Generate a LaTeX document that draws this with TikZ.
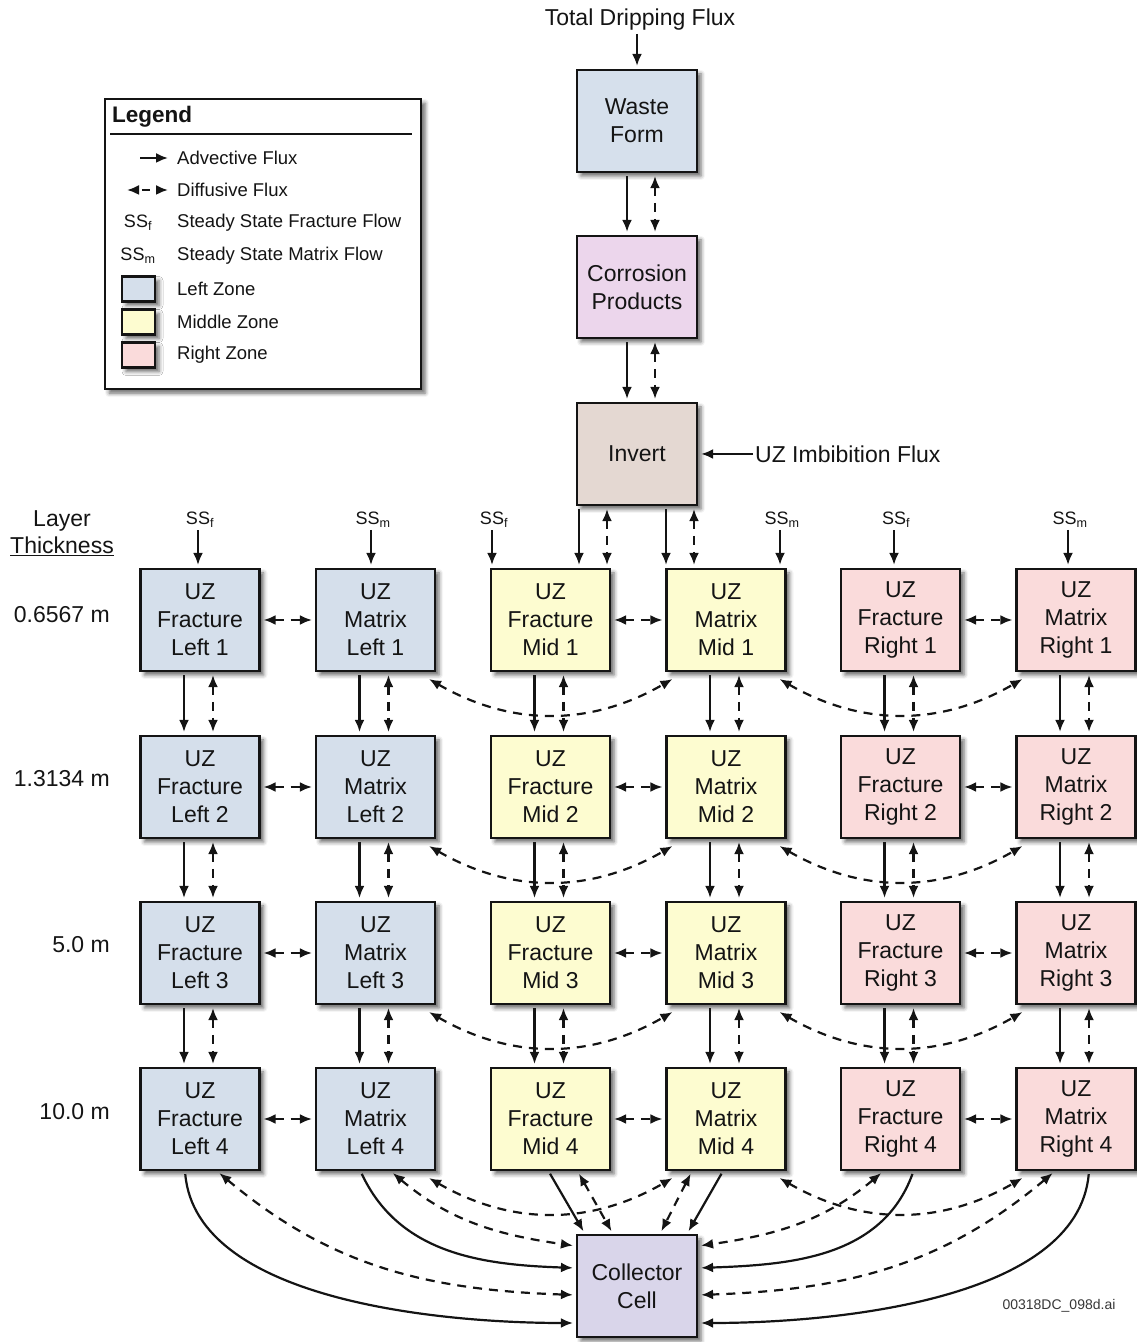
\documentclass[tikz,border=0pt]{standalone}
\usepackage{fontspec}
\setmainfont{Liberation Sans}
\usetikzlibrary{arrows.meta,shadows.blur,calc}
\definecolor{cL}{RGB}{213,223,235}
\definecolor{cM}{RGB}{253,252,208}
\definecolor{cR}{RGB}{250,219,219}
\definecolor{cWF}{RGB}{214,224,236}
\definecolor{cCP}{RGB}{236,214,236}
\definecolor{cIN}{RGB}{228,216,210}
\definecolor{cCC}{RGB}{217,213,234}
\definecolor{ink}{RGB}{20,20,20}
\begin{document}
\begin{tikzpicture}[x=1pt,y=1pt,
  >={Latex[length=12pt,width=10pt]},
  shadowed/.style={blur shadow={shadow xshift=4pt,shadow yshift=-4pt,shadow blur radius=4pt,shadow opacity=60}},
  box/.style={draw=ink,line width=2.2pt,minimum width=119pt,minimum height=102pt,inner sep=0pt,
    align=center,font=\fontsize{23}{28}\selectfont,text=ink,shadowed},
  adv/.style={draw=ink,line width=2.2pt,->,shorten >=3pt,shorten <=3pt},
  dif/.style={draw=ink,line width=2.2pt,<->,shorten >=3pt,shorten <=3pt,dash pattern=on 9pt off 7pt},
  lbl/.style={font=\fontsize{23}{27}\selectfont,text=ink,inner sep=0pt},
  ltx/.style={font=\fontsize{18.5}{22}\selectfont,text=ink,inner sep=0pt,anchor=west},
  sslbl/.style={font=\fontsize{18}{20}\selectfont,text=ink,inner sep=1pt},
  swatch/.style={draw=ink,line width=2.2pt,minimum width=33pt,minimum height=25pt,inner sep=0pt,shadowed}
]
\useasboundingbox (0,0) rectangle (1136,1342);

% ---------- legend ----------
\node[draw=ink,line width=2.2pt,fill=white,minimum width=316pt,minimum height=290pt,anchor=north west,shadowed] (leg) at (104,1244) {};
\node[font=\fontsize{22.5}{26}\selectfont\bfseries,text=ink,anchor=west,inner sep=0pt] (legt) at (112,1225) {Legend};
\coordinate (rl) at (110,1208); \coordinate (rr) at (412,1208);
\draw[ink,line width=1.8pt] (rl) -- (rr);
\coordinate (a1) at (140,1184); \coordinate (a2) at (168,1184);
\draw[adv,shorten <=0pt,shorten >=0pt] (a1) -- (a2);
\node[ltx] (t1) at (177,1184) {Advective Flux};
\coordinate (d1) at (127,1152); \coordinate (d2) at (168,1152);
\draw[dif,shorten <=0pt,shorten >=0pt,dash pattern=on 0pt off 4pt on 8pt off 4pt] (d1) -- (d2);
\node[ltx] (t2) at (177,1152) {Diffusive Flux};
\node[sslbl] (lf) at (138,1119) {SS\textsubscript{f}};
\node[ltx] (t3) at (177,1119) {Steady State Fracture Flow};
\node[sslbl] (lm) at (138,1086) {SS\textsubscript{m}};
\node[ltx] (t4) at (177,1086) {Steady State Matrix Flow};
\node[swatch,fill=cL] (s1) at (138.5,1053) {};
\node[ltx] (t5) at (177,1053) {Left Zone};
\node[swatch,fill=cM] (s2) at (138.5,1020) {};
\node[ltx] (t6) at (177,1020) {Middle Zone};
\node[swatch,fill=cR] (s3) at (138.5,987) {};
\node[ltx] (t7) at (177,987) {Right Zone};

% ---------- top column ----------
\node[lbl] (tdf) at (640,1322) {Total Dripping Flux};
\node[box,fill=cWF,minimum width=120pt] (wf) at (637,1221) {Waste\\Form};
\node[box,fill=cCP,minimum width=120pt] (cp) at (637,1055) {Corrosion\\Products};
\node[box,fill=cIN,minimum width=120pt] (inv) at (637,888) {Invert};
\node[lbl,anchor=west] (imb) at (755,888) {UZ Imbibition Flux};
\node[box,fill=cCC,minimum width=120pt] (cc) at (637,56) {Collector\\Cell};

\draw[adv] (tdf.south -| wf.north) -- (wf.north);
\draw[adv,shorten <=2pt] (imb.west) -- (inv.east);
\draw[adv] ([xshift=-10pt]wf.south) -- ([xshift=-10pt]wf.south |- cp.north);
\draw[dif] ([xshift=18pt]wf.south) -- ([xshift=18pt]wf.south |- cp.north);
\draw[adv] ([xshift=-10pt]cp.south) -- ([xshift=-10pt]cp.south |- inv.north);
\draw[dif] ([xshift=18pt]cp.south) -- ([xshift=18pt]cp.south |- inv.north);

% ---------- layer thickness ----------
\node[lbl,align=center] (lt) at (62,809) {Layer\\\underline{Thickness}};
\node[lbl,anchor=east] (th1) at (110,727) {0.6567 m};
\node[lbl,anchor=east] (th2) at (110,563) {1.3134 m};
\node[lbl,anchor=east] (th3) at (110,397) {5.0 m};
\node[lbl,anchor=east] (th4) at (110,230) {10.0 m};

% ---------- grid ----------
\foreach \r/\Y in {1/722,2/555,3/389,4/223}{
  \node[box,fill=cL] (fl\r) at (200,\Y) {UZ\\Fracture\\Left \r};
  \node[box,fill=cL] (ml\r) at (375.5,\Y) {UZ\\Matrix\\Left \r};
  \node[box,fill=cM] (fm\r) at (550.5,\Y) {UZ\\Fracture\\Mid \r};
  \node[box,fill=cM] (mm\r) at (726,\Y) {UZ\\Matrix\\Mid \r};
  \node[box,fill=cR] (fr\r) at (900.5,\Y) {UZ\\Fracture\\Right \r};
  \node[box,fill=cR] (mr\r) at (1076,\Y) {UZ\\Matrix\\Right \r};
}

% invert to middle zone
\draw[adv] ([xshift=-58pt]inv.south) -- ([xshift=-58pt]inv.south |- fm1.north);
\draw[dif] ([xshift=-30pt]inv.south) -- ([xshift=-30pt]inv.south |- fm1.north);
\draw[adv] ([xshift=29pt]inv.south) -- ([xshift=29pt]inv.south |- mm1.north);
\draw[dif] ([xshift=57pt]inv.south) -- ([xshift=57pt]inv.south |- mm1.north);

% steady state inputs
\node[sslbl] (ss1) at (200,822) {SS\textsubscript{f}};
\node[sslbl] (ss2) at (373,822) {SS\textsubscript{m}};
\node[sslbl] (ss3) at (494,822) {SS\textsubscript{f}};
\node[sslbl] (ss4) at (782,822) {SS\textsubscript{m}};
\node[sslbl] (ss5) at (896,822) {SS\textsubscript{f}};
\node[sslbl] (ss6) at (1070,822) {SS\textsubscript{m}};
\draw[adv,shorten <=1pt] ([xshift=-2pt]ss1.south) -- ([xshift=-2pt]ss1.south |- fl1.north);
\draw[adv,shorten <=1pt] ([xshift=-2pt]ss2.south) -- ([xshift=-2pt]ss2.south |- ml1.north);
\draw[adv,shorten <=1pt] ([xshift=-2pt]ss3.south) -- ([xshift=-2pt]ss3.south |- fm1.north);
\draw[adv,shorten <=1pt] ([xshift=-2pt]ss4.south) -- ([xshift=-2pt]ss4.south |- mm1.north);
\draw[adv,shorten <=1pt] ([xshift=-2pt]ss5.south) -- ([xshift=-2pt]ss5.south |- fr1.north);
\draw[adv,shorten <=1pt] ([xshift=-2pt]ss6.south) -- ([xshift=-2pt]ss6.south |- mr1.north);

% within-row diffusion
\foreach \r in {1,2,3,4}{
  \draw[dif] (fl\r.east) -- (ml\r.west);
  \draw[dif] (fm\r.east) -- (mm\r.west);
  \draw[dif] (fr\r.east) -- (mr\r.west);
  \draw[dif,shorten <=0pt,shorten >=0pt] ([shift={(-7pt,-7pt)}]ml\r.south east) to[out=-30,in=-150] ([shift={(7pt,-7pt)}]mm\r.south west);
  \draw[dif,shorten <=0pt,shorten >=0pt] ([shift={(-7pt,-7pt)}]mm\r.south east) to[out=-30,in=-150] ([shift={(7pt,-7pt)}]mr\r.south west);
}

% between rows
\foreach \c in {fl,ml,fm,mm,fr,mr}{
  \foreach \r/\s in {1/2,2/3,3/4}{
    \draw[adv] ([xshift=-16pt]\c\r.south) -- ([xshift=-16pt]\c\r.south |- \c\s.north);
    \draw[dif] ([xshift=13pt]\c\r.south) -- ([xshift=13pt]\c\r.south |- \c\s.north);
  }
}

% to the collector cell
\draw[adv] ([xshift=-2pt]fm4.south) -- ([xshift=-52pt]cc.north);
\draw[dif] ([xshift=27pt]fm4.south) -- ([xshift=-24pt]cc.north);
\draw[dif] ([xshift=-34pt]mm4.south) -- ([xshift=23pt]cc.north);
\draw[adv] ([xshift=-3pt]mm4.south) -- ([xshift=50pt]cc.north);

\draw[adv] ([xshift=-15pt]fl4.south) to[out=-85,in=180,looseness=0.8] ([yshift=-37pt]cc.west);
\draw[dif] ([xshift=17pt]fl4.south) to[out=-40,in=178] ([yshift=-9pt]cc.west);
\draw[adv] ([xshift=-15pt]ml4.south) to[out=-65,in=178] ([yshift=18pt]cc.west);
\draw[dif] ([xshift=15pt]ml4.south) to[out=-40,in=172] ([yshift=40pt]cc.west);

\draw[dif] ([xshift=-17pt]fr4.south) to[out=-140,in=8] ([yshift=40pt]cc.east);
\draw[adv] ([xshift=13pt]fr4.south) to[out=-110,in=2] ([yshift=18pt]cc.east);
\draw[dif] ([xshift=-21pt]mr4.south) to[out=-140,in=2] ([yshift=-9pt]cc.east);
\draw[adv] ([xshift=13pt]mr4.south) to[out=-95,in=0,looseness=0.8] ([yshift=-37pt]cc.east);

\node[font=\fontsize{14}{16}\selectfont,text=ink!85,inner sep=0pt] (fid) at (1059,36) {00318DC\_098d.ai};
\end{tikzpicture}
\end{document}
